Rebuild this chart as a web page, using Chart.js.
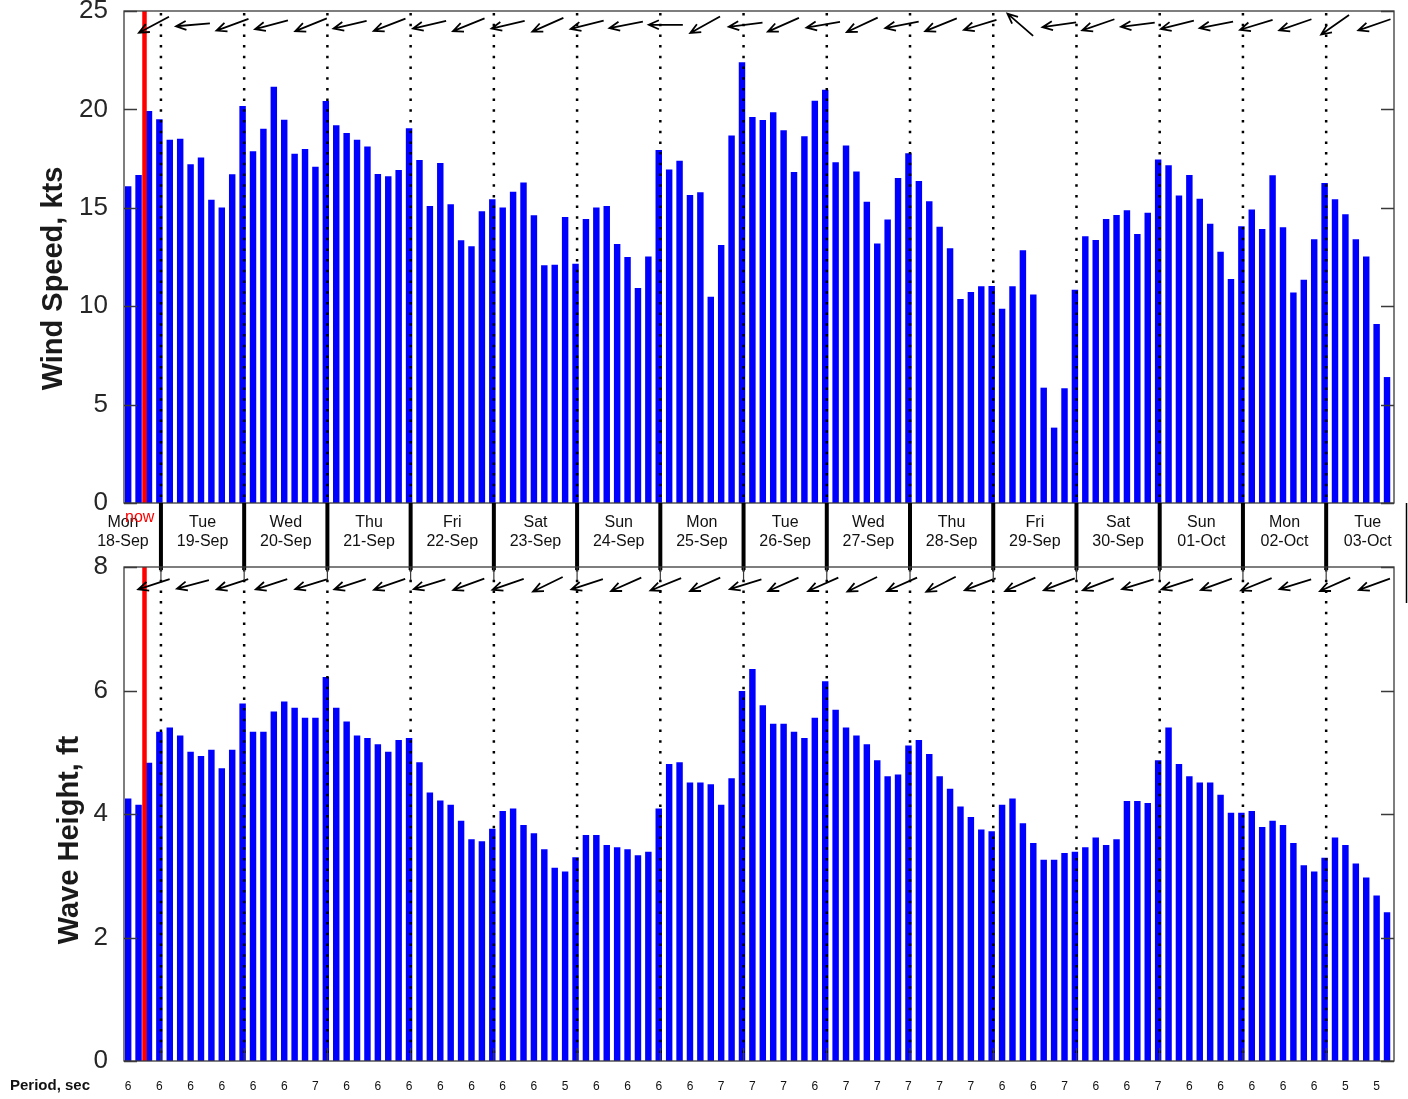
<!DOCTYPE html>
<html><head><meta charset="utf-8">
<script src="https://cdn.jsdelivr.net/npm/chart.js@4.4.0/dist/chart.umd.min.js"></script>
<style>
html,body{margin:0;padding:0;background:#fff;}
#wrap{position:relative;width:1408px;height:1099px;overflow:hidden;background:#fff;}
#c1{position:absolute;left:0;top:0;}
#c2{position:absolute;left:0;top:545px;}
</style></head><body>
<div id="wrap"><canvas id="c1" width="1408" height="605"></canvas><canvas id="c2" width="1408" height="554"></canvas></div>
<script>
// ---- data (3-hourly forecast, bar index 0..121) ----
const windSpeed = [
16.09,16.67,19.92,19.50,18.46,18.51,17.21,17.55,15.41,15.01,
16.70,20.17,17.87,19.02,21.15,19.48,17.75,17.99,17.09,20.43,
19.19,18.80,18.46,18.12,16.72,16.60,16.92,19.04,17.43,15.09,
17.28,15.18,13.35,13.04,14.82,15.43,15.01,15.82,16.29,14.62,
12.08,12.11,14.53,12.16,14.43,15.01,15.09,13.16,12.50,10.92,
12.52,17.94,16.95,17.39,15.65,15.79,10.48,13.11,18.68,22.39,
19.61,19.46,19.85,18.94,16.82,18.63,20.44,21.00,17.31,18.16,
16.84,15.31,13.18,14.40,16.51,17.77,16.36,15.33,14.04,12.94,
10.37,10.72,11.01,11.03,9.87,11.01,12.84,10.60,5.86,3.83,
5.83,10.84,13.55,13.36,14.43,14.63,14.87,13.67,14.75,17.45,
17.16,15.62,16.67,15.46,14.19,12.77,11.38,14.06,14.91,13.92,
16.65,14.01,10.69,11.35,13.40,16.26,15.43,14.67,13.40,12.53,
9.10,6.40];
const waveHeight = [
4.25,4.15,4.83,5.33,5.40,5.27,5.01,4.94,5.04,4.74,
5.04,5.79,5.33,5.33,5.66,5.82,5.72,5.56,5.56,6.22,
5.72,5.50,5.27,5.23,5.13,5.01,5.20,5.23,4.84,4.35,
4.22,4.15,3.89,3.59,3.56,3.76,4.05,4.09,3.82,3.69,
3.43,3.13,3.07,3.30,3.66,3.66,3.50,3.46,3.43,3.33,
3.39,4.09,4.81,4.84,4.51,4.51,4.48,4.15,4.58,5.99,
6.35,5.76,5.46,5.46,5.33,5.23,5.56,6.15,5.69,5.40,
5.27,5.13,4.87,4.61,4.64,5.11,5.20,4.97,4.61,4.41,
4.12,3.95,3.75,3.72,4.15,4.25,3.85,3.53,3.26,3.26,
3.37,3.39,3.46,3.62,3.50,3.59,4.21,4.21,4.18,4.87,
5.40,4.81,4.61,4.51,4.51,4.31,4.02,4.02,4.05,3.79,
3.89,3.82,3.53,3.17,3.07,3.29,3.62,3.50,3.20,2.97,
2.68,2.41];
const dayNames = ['Mon','Tue','Wed','Thu','Fri','Sat','Sun','Mon','Tue','Wed','Thu','Fri','Sat','Sun','Mon','Tue'];
const dayDates = ['18-Sep','19-Sep','20-Sep','21-Sep','22-Sep','23-Sep','24-Sep','25-Sep','26-Sep','27-Sep','28-Sep','29-Sep','30-Sep','01-Oct','02-Oct','03-Oct'];
const dayCenters = [-0.5,7.15,15.15,23.15,31.15,39.15,47.15,55.15,63.15,71.15,79.15,87.15,95.15,103.15,111.15,119.15];
const daySeparators = [3.15,11.15,19.15,27.15,35.15,43.15,51.15,59.15,67.15,75.15,83.15,91.15,99.15,107.15,115.15];
const periodTicks = [0,3,6,9,12,15,18,21,24,27,30,33,36,39,42,45,48,51,54,57,60,63,66,69,72,75,78,81,84,87,90,93,96,99,102,105,108,111,114,117,120];
const periodValues = [6,6,6,6,6,6,7,6,6,6,6,6,6,6,5,6,6,6,6,7,7,7,6,7,7,7,7,7,6,6,7,6,6,7,6,6,6,6,6,5,5];
const arrowTimes = [2.48,6.23,10.03,13.78,17.58,21.33,25.13,28.97,32.74,36.52,40.34,44.12,47.87,51.68,55.46,59.35,62.98,66.81,70.56,74.38,78.13,81.90,85.75,89.50,93.25,97.05,100.85,104.60,108.44,112.19,116.01,119.79];
const windDirFrom = [62,85,70,75,68,77,69,77,68,77,66,76,79,90,61,83,66,80,65,79,68,73,131,82,71,83,76,79,73,71,55,71];
const waveDirFrom = [72,75,72,72,73,72,71,73,70,71,64,72,66,68,66,73,66,66,64,66,63,69,66,69,69,73,72,70,68,73,66,70];
const nowTime = 1.57;

const FONT = '"Liberation Sans", Arial, Helvetica, sans-serif';
const X_MIN = -0.4, X_MAX = 121.67;

function drawArrow(ctx, cx, cy, dirFrom, len) {
  const b = (dirFrom + 180) * Math.PI / 180;
  const vx = Math.sin(b), vy = -Math.cos(b);
  const tx = cx - vx * len / 2, ty = cy - vy * len / 2;
  const hx = cx + vx * len / 2, hy = cy + vy * len / 2;
  const ang = Math.atan2(vy, vx);
  const hl = 11, ha = 0.42;
  ctx.beginPath();
  ctx.moveTo(tx, ty); ctx.lineTo(hx, hy);
  ctx.moveTo(hx - hl * Math.cos(ang - ha), hy - hl * Math.sin(ang - ha));
  ctx.lineTo(hx, hy);
  ctx.lineTo(hx - hl * Math.cos(ang + ha), hy - hl * Math.sin(ang + ha));
  ctx.stroke();
}

function makeOverlay(kind) {
  return {
    id: 'overlay_' + kind,
    afterDraw(chart) {
      const ctx = chart.ctx, a = chart.chartArea, x = chart.scales.x, y = chart.scales.y;
      ctx.save();
      // dotted day separators
      ctx.strokeStyle = '#000'; ctx.lineWidth = 2.5; ctx.setLineDash([2.5, 8.2]);
      daySeparators.forEach(v => {
        const px = x.getPixelForValue(v);
        ctx.beginPath(); ctx.moveTo(px, a.top + 2); ctx.lineTo(px, a.bottom); ctx.stroke();
      });
      ctx.setLineDash([]);
      // "now" line
      ctx.fillStyle = '#ff0000';
      const nx = x.getPixelForValue(nowTime);
      ctx.fillRect(nx - 2.25, a.top, 4.5, a.bottom - a.top);
      // direction arrows
      ctx.strokeStyle = '#000'; ctx.lineWidth = 1.8; ctx.lineCap = 'butt'; ctx.lineJoin = 'miter';
      const dirs = kind === 'wind' ? windDirFrom : waveDirFrom;
      const rowY = y.getPixelForValue(kind === 'wind' ? 24.3 : 7.72);
      arrowTimes.forEach((t, i) => drawArrow(ctx, x.getPixelForValue(t), rowY, dirs[i], kind === 'wind' ? 34 : 33));
      // frame
      ctx.strokeStyle = '#3a3a3a'; ctx.lineWidth = 1.3;
      ctx.strokeRect(a.left, a.top, a.right - a.left, a.bottom - a.top);
      // inward y ticks
      y.ticks.forEach(t => {
        const py = Math.round(y.getPixelForValue(t.value)) + 0.5;
        ctx.beginPath(); ctx.moveTo(a.left, py); ctx.lineTo(a.left + 13, py);
        ctx.moveTo(a.right - 13, py); ctx.lineTo(a.right, py); ctx.stroke();
      });
      if (kind === 'wind') {
        // thick separators in the day strip
        ctx.strokeStyle = '#000'; ctx.lineWidth = 4;
        daySeparators.forEach(v => {
          const px = x.getPixelForValue(v);
          ctx.beginPath(); ctx.moveTo(px, a.bottom); ctx.lineTo(px, 570); ctx.stroke();
        });
        ctx.lineWidth = 1.5;
        ctx.beginPath(); ctx.moveTo(1406.5, a.bottom); ctx.lineTo(1406.5, 603); ctx.stroke();
        // now label
        ctx.fillStyle = '#ff0000'; ctx.font = '16px ' + FONT;
        ctx.textAlign = 'left'; ctx.textBaseline = 'alphabetic';
        ctx.fillText('now', 125, 522);
        // y title
        ctx.save(); ctx.translate(53.5, 278.5); ctx.rotate(-Math.PI / 2);
        ctx.fillStyle = '#1a1a1a'; ctx.font = 'bold 29px ' + FONT;
        ctx.textAlign = 'center'; ctx.textBaseline = 'middle';
        ctx.fillText('Wind Speed, kts', 0, 0); ctx.restore();
      } else {
        // inward x ticks at separators (top and bottom)
        ctx.strokeStyle = '#3a3a3a'; ctx.lineWidth = 1.2;
        daySeparators.forEach(v => {
          const px = x.getPixelForValue(v);
          ctx.beginPath(); ctx.moveTo(px, a.top); ctx.lineTo(px, a.top + 13);
          ctx.moveTo(px, a.bottom - 13); ctx.lineTo(px, a.bottom); ctx.stroke();
        });
        ctx.save(); ctx.translate(70, 295); ctx.rotate(-Math.PI / 2);
        ctx.fillStyle = '#1a1a1a'; ctx.font = 'bold 29px ' + FONT;
        ctx.textAlign = 'center'; ctx.textBaseline = 'middle';
        ctx.fillText('Wave Height, ft', 0, 0); ctx.restore();
        ctx.fillStyle = '#111'; ctx.font = 'bold 15px ' + FONT;
        ctx.textAlign = 'left'; ctx.textBaseline = 'middle';
        ctx.fillText('Period, sec', 10, 541);
      }
      ctx.restore();
    }
  };
}

function yAxis(max, step) {
  return {
    type: 'linear', position: 'left', min: 0, max: max,
    grid: { display: false, drawTicks: false }, border: { display: false },
    ticks: { stepSize: step, padding: 16, color: '#262626', font: { family: FONT, size: 26 } },
    afterFit: s => { s.width = 124; s.paddingTop = 0; s.paddingBottom = 0; }
  };
}

function baseX(tickValues, labelFn, fontSize, pad, height) {
  return {
    type: 'linear', position: 'bottom', min: X_MIN, max: X_MAX, bounds: 'data', offset: false,
    grid: { display: false, drawTicks: false, offset: false }, border: { display: false },
    afterBuildTicks: s => { s.ticks = tickValues.map(v => ({ value: v })); },
    ticks: { autoSkip: false, maxRotation: 0, minRotation: 0, padding: pad, color: '#111',
      font: { family: FONT, size: fontSize, lineHeight: 1.19 }, callback: labelFn },
    afterFit: s => { s.height = height; s.paddingLeft = 0; s.paddingRight = 0; }
  };
}

function barData(arr) { return arr.map((v, i) => ({ x: i, y: v })); }

Chart.defaults.font.family = FONT;

new Chart(document.getElementById('c1'), {
  type: 'bar',
  data: { datasets: [{ data: barData(windSpeed), backgroundColor: '#0000ff', borderWidth: 0,
    barPercentage: 0.62, categoryPercentage: 1 }] },
  options: {
    responsive: false, animation: false, devicePixelRatio: 1,
    layout: { padding: { top: 11, right: 14, left: 0, bottom: 38 } },
    plugins: { legend: { display: false }, tooltip: { enabled: false } },
    scales: {
      x: baseX(dayCenters, (v, i) => [dayNames[i], dayDates[i]], 16, 10.2, 64),
      y: yAxis(25, 5)
    }
  },
  plugins: [makeOverlay('wind')]
});

new Chart(document.getElementById('c2'), {
  type: 'bar',
  data: { datasets: [{ data: barData(waveHeight), backgroundColor: '#0000ff', borderWidth: 0,
    barPercentage: 0.62, categoryPercentage: 1 }] },
  options: {
    responsive: false, animation: false, devicePixelRatio: 1,
    layout: { padding: { top: 22, right: 14, left: 0, bottom: 0 } },
    plugins: { legend: { display: false }, tooltip: { enabled: false } },
    scales: {
      x: baseX(periodTicks, (v, i) => String(periodValues[i]), 12, 18.6, 38),
      y: yAxis(8, 2)
    }
  },
  plugins: [makeOverlay('wave')]
});
</script>
</body></html>
